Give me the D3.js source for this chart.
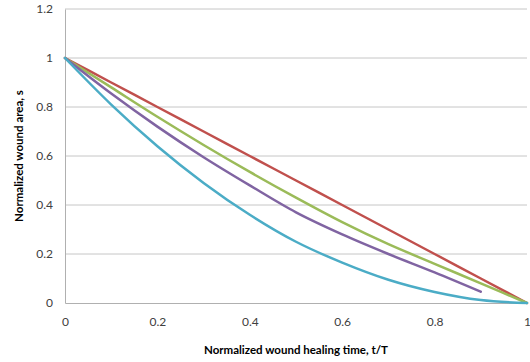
<!DOCTYPE html>
<html>
<head>
<meta charset="utf-8">
<script src="https://cdn.jsdelivr.net/npm/d3@7"></script>
<style>
  body { margin: 0; background: #fff; }
  text { font-family: Lato, "Open Sans", sans-serif; }
</style>
</head>
<body>
<div id="chart"></div>
<script>
// Valeurs (t/T -> s)
const tValues = [0, 0.1, 0.2, 0.3, 0.4, 0.5, 0.6, 0.7, 0.8, 0.9, 1];
const redValues = [1, 0.9, 0.8, 0.7, 0.6, 0.5, 0.4, 0.3, 0.2, 0.1, 0];
const greenValues = [1, 0.88, 0.76, 0.645, 0.535, 0.43, 0.33, 0.24, 0.16, 0.08, 0];
const purpleValues = [1, 0.855, 0.72, 0.595, 0.48, 0.37, 0.28, 0.2, 0.125, 0.046];
const tealValues = [1, 0.81, 0.64, 0.49, 0.36, 0.25, 0.165, 0.095, 0.045, 0.012, 0];
const xTicks = [0, 0.2, 0.4, 0.6, 0.8, 1];
const yTicks = [0, 0.2, 0.4, 0.6, 0.8, 1, 1.2];

const series = [
    { name: "red", color: "#C0504D", values: redValues },
    { name: "green", color: "#9BBB59", values: greenValues },
    { name: "purple", color: "#8064A2", values: purpleValues },
    { name: "teal", color: "#4BACC6", values: tealValues }
];

function drawChart() {
    const margin = { top: 9, right: 3, bottom: 59, left: 65 };
    const width = 530 - margin.left - margin.right;
    const height = 362 - margin.top - margin.bottom;

    const svg = d3.select("#chart")
        .append("svg")
        .attr("width", 530)
        .attr("height", 362);

    const g = svg.append("g")
        .attr("transform", "translate(" + margin.left + "," + margin.top + ")");

    const xScale = d3.scaleLinear().domain([0, 1]).range([0, width]);
    const yScale = d3.scaleLinear().domain([0, 1.2]).range([height, 0]);

    // Lignes de grille horizontales
    g.selectAll(".grid")
        .data(yTicks.filter(d => d > 0))
        .enter().append("line")
        .attr("x1", 0)
        .attr("x2", width)
        .attr("y1", d => yScale(d))
        .attr("y2", d => yScale(d))
        .attr("stroke", "#c6c6c6")
        .attr("stroke-width", 1);

    // Axe des y
    const yAxis = g.append("g")
        .call(d3.axisLeft(yScale).tickValues(yTicks).tickFormat(d3.format("~g")).tickSize(0).tickPadding(12));
    yAxis.select(".domain").attr("stroke", "#b0b0b0");
    yAxis.selectAll("text").attr("font-size", "12px").attr("fill", "#404040")
        .style("font-family", "Lato, sans-serif");

    // Axe des x
    const xAxis = g.append("g")
        .attr("transform", "translate(0," + height + ")")
        .call(d3.axisBottom(xScale).tickValues(xTicks).tickFormat(d3.format("~g")).tickSize(0).tickPadding(14));
    xAxis.select(".domain").attr("stroke", "#b0b0b0");
    xAxis.selectAll("text").attr("font-size", "12px").attr("fill", "#404040")
        .style("font-family", "Lato, sans-serif");

    // Courbes
    const line = d3.line()
        .x((d, i) => xScale(tValues[i]))
        .y(d => yScale(d))
        .curve(d3.curveMonotoneX);

    series.forEach(s => {
        g.append("path")
            .datum(s.values)
            .attr("fill", "none")
            .attr("stroke", s.color)
            .attr("stroke-width", 2.5)
            .attr("stroke-linecap", "round")
            .attr("d", line);
    });

    // Titres des axes
    svg.append("text")
        .attr("x", 296)
        .attr("y", 354)
        .attr("text-anchor", "middle")
        .attr("font-size", "11.5px")
        .attr("font-weight", "bold")
        .attr("fill", "#000")
        .text("Normalized wound healing time, t/T");

    svg.append("text")
        .attr("transform", "translate(23," + 156 + ") rotate(-90)")
        .attr("text-anchor", "middle")
        .attr("font-size", "11.5px")
        .attr("font-weight", "bold")
        .attr("fill", "#000")
        .text("Normalized wound area, s");
}

document.addEventListener("DOMContentLoaded", drawChart);
</script>
</body>
</html>
